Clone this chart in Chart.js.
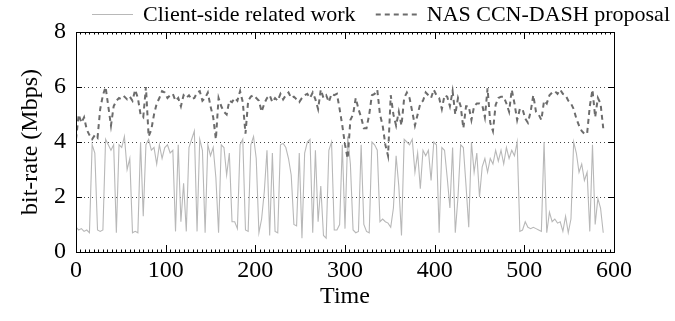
<!DOCTYPE html>
<html><head><meta charset="utf-8">
<script src="https://cdn.jsdelivr.net/npm/chart.js@4"></script>
<style>html,body{margin:0;padding:0;background:#fff}#wrap{width:675px;height:321px;position:relative}</style>
</head><body><div id="wrap"><canvas id="c"></canvas></div>
<script>
// ---- data (time step of 3 units) ----
const STEP = 3;
const CLIENT = [
0.9,0.8,0.85,0.75,0.8,0.7,3.9,3.6,0.8,0.75,
0.8,4.1,3.9,3.7,3.9,0.7,3.9,3.8,4.2,3.0,
3.4,0.7,0.75,0.7,4.0,1.3,3.9,4.1,3.7,3.8,
3.2,3.9,3.4,3.8,3.9,3.6,3.7,0.75,3.9,1.1,
2.5,0.75,3.8,4.1,4.4,0.75,4.1,3.7,0.7,3.9,
3.5,3.8,2.7,0.7,3.9,3.8,2.8,3.6,1.1,1.1,
0.85,3.9,4.1,0.8,0.75,3.9,4.2,3.4,0.7,1.2,
2.2,3.7,0.6,3.6,0.75,0.7,3.9,3.95,3.8,3.4,
2.8,1.0,0.95,3.6,0.5,3.6,4.0,4.1,0.7,3.7,
1.1,2.4,0.6,0.5,3.7,4.0,0.8,0.8,1.0,3.9,
0.85,4.2,3.2,0.8,0.7,0.75,3.9,1.0,0.75,0.7,
4.0,3.9,3.7,1.1,1.2,1.1,1.05,0.9,1.6,3.5,
2.4,0.6,4.1,4.0,3.9,4.1,2.9,3.6,2.3,3.7,
3.5,3.7,2.6,4.0,3.9,0.7,3.8,3.7,2.7,1.6,
3.8,0.7,2.0,3.9,3.8,2.4,0.9,4.0,2.9,3.6,
2.0,3.1,3.4,2.9,3.4,3.2,3.7,3.3,3.7,3.2,
3.8,3.4,3.7,3.5,4.0,0.75,0.8,1.1,0.9,0.85,
0.9,0.85,0.8,0.75,4.0,0.7,1.45,1.1,1.2,1.05,
1.1,0.75,1.3,0.7,1.2,4.0,3.6,2.9,3.2,2.6,
2.9,0.75,3.9,1.0,1.95,1.6,0.7
];
const NAS = [
4.1,5.0,4.7,4.9,4.45,4.25,4.1,4.25,4.15,5.2,
5.7,6.0,5.3,4.6,5.3,5.5,5.6,5.55,5.65,5.55,
5.65,5.5,5.9,5.6,5.0,4.9,6.0,4.2,4.45,5.0,
5.4,5.6,5.85,5.8,5.6,5.7,5.75,5.5,5.6,5.3,
5.7,5.6,5.7,5.55,5.6,5.8,5.85,5.5,5.6,5.8,
5.3,4.9,4.1,5.6,5.3,5.1,5.0,5.5,5.45,5.6,
5.5,5.85,5.45,4.3,5.5,5.65,5.7,5.6,5.5,5.1,
5.4,5.6,5.7,5.45,5.6,5.5,5.75,5.55,5.7,5.8,
5.6,5.65,5.55,5.45,5.6,5.7,5.75,5.6,5.8,5.55,
5.2,5.9,5.6,5.7,5.45,5.75,5.7,5.75,5.2,4.6,
3.9,3.4,4.8,5.0,5.6,5.2,4.9,4.5,4.5,5.0,
5.7,5.75,5.9,5.0,4.6,3.9,3.5,5.7,5.0,4.6,
5.1,4.6,5.6,5.8,5.6,5.1,4.6,5.0,5.4,5.5,
5.8,5.7,5.6,5.9,5.7,5.6,5.2,5.7,5.65,5.3,
5.85,5.0,5.6,5.3,4.5,5.3,5.3,4.8,5.3,5.4,
5.4,5.35,4.9,5.95,4.7,4.4,5.35,5.6,5.65,5.65,
5.4,5.1,5.9,5.4,4.8,5.2,5.2,4.85,4.7,5.1,
5.7,5.1,5.0,4.8,5.5,5.4,5.7,5.8,5.85,5.75,
5.9,5.75,5.7,5.5,5.4,5.2,4.85,4.6,4.4,4.3,
4.3,5.3,5.9,4.9,5.6,5.4,4.5
];
const TIME = CLIENT.map((_, i) => i * STEP);
const X_TICKS = [0, 100, 200, 300, 400, 500, 600];
const Y_TICKS = [0, 2, 4, 6, 8];
const Y_GRID = [2, 4, 6];
const SERIES_LABELS = ['Client-side related work', 'NAS CCN-DASH proposal'];

// ---- style/layout ----
const SERIF = '"Liberation Serif", "DejaVu Serif", serif';
const X_MINOR = 5;
const LEGEND_FONT = '22px ' + SERIF;
const LEGEND_FIRST_TEXT_X = 143;
const LEGEND_RIGHT = 670;
const LEGEND_Y = 14;
const LEGEND_SAMPLE = 41;
const LEGEND_TEXT_GAP = 10;

const toPts = (vals) => vals.map((v, i) => ({x: TIME[i], y: v}));

const framePlugin = {
  id: 'frame',
  afterDraw(chart) {
    const {ctx, chartArea: a, scales} = chart;
    ctx.save();
    ctx.strokeStyle = '#000';
    ctx.lineWidth = 1;
    ctx.setLineDash([]);
    ctx.strokeRect(a.left + 0.5, a.top + 0.5, a.right - a.left, a.bottom - a.top);
    ctx.beginPath();
    for (let v = 0; v <= 600; v += X_MINOR) {
      const px = Math.round(scales.x.getPixelForValue(v)) + 0.5;
      const len = (v % 100 === 0) ? 7 : 2.5;
      ctx.moveTo(px, a.bottom); ctx.lineTo(px, a.bottom - len);
      ctx.moveTo(px, a.top); ctx.lineTo(px, a.top + len);
    }
    Y_TICKS.forEach(v => {
      const py = Math.round(scales.y.getPixelForValue(v)) + 0.5;
      ctx.moveTo(a.left, py); ctx.lineTo(a.left + 6, py);
      ctx.moveTo(a.right, py); ctx.lineTo(a.right - 6, py);
    });
    ctx.stroke();
    ctx.restore();
  }
};

const legendPlugin = {
  id: 'topLegend',
  afterDraw(chart) {
    const ctx = chart.ctx;
    ctx.save();
    ctx.font = LEGEND_FONT;
    ctx.textBaseline = 'middle';
    ctx.fillStyle = '#000';
    const ds = chart.data.datasets;
    const w2 = ctx.measureText(ds[1].label).width;
    const textX = [LEGEND_FIRST_TEXT_X, LEGEND_RIGHT - w2];
    ds.forEach((d, i) => {
      const tx = textX[i];
      const x0 = tx - LEGEND_TEXT_GAP - LEGEND_SAMPLE;
      ctx.beginPath();
      ctx.strokeStyle = d.borderColor;
      ctx.lineWidth = d.borderWidth;
      ctx.setLineDash(d.borderDash || []);
      ctx.moveTo(x0, LEGEND_Y + 0.5);
      ctx.lineTo(x0 + LEGEND_SAMPLE, LEGEND_Y + 0.5);
      ctx.stroke();
      ctx.setLineDash([]);
      ctx.fillText(d.label, tx, LEGEND_Y + 1);
    });
    ctx.restore();
  }
};

new Chart(document.getElementById('c'), {
  type: 'line',
  data: {
    datasets: [
      {label: SERIES_LABELS[0], data: toPts(CLIENT), borderColor: '#b8b8b8', borderWidth: 1.1,
       pointRadius: 0, tension: 0, fill: false, order: 2},
      {label: SERIES_LABELS[1], data: toPts(NAS), borderColor: '#6c6c6c', borderWidth: 2,
       borderDash: [5, 4], pointRadius: 0, tension: 0, fill: false, order: 1}
    ]
  },
  options: {
    responsive: true,
    maintainAspectRatio: false,
    animation: false,
    devicePixelRatio: 1,
    layout: {padding: {top: 32, right: 61, bottom: 0, left: 0}},
    plugins: {legend: {display: false}, tooltip: {enabled: false}},
    scales: {
      x: {
        type: 'linear', min: 0, max: 600,
        afterBuildTicks: s => { s.ticks = X_TICKS.map(v => ({value: v})); },
        grid: {display: false, drawTicks: false},
        border: {display: false},
        ticks: {color: '#000', font: {family: SERIF, size: 24}, padding: 4, maxRotation: 0},
        title: {display: true, text: 'Time', color: '#000', font: {family: SERIF, size: 24},
                padding: {top: 0, bottom: 10}},
        afterFit: s => { s.height = 69; }
      },
      y: {
        min: 0, max: 8,
        afterBuildTicks: s => { s.ticks = Y_TICKS.map(v => ({value: v})); },
        grid: {
          drawTicks: false,
          lineWidth: 1,
          color: c => (c.tick && Y_GRID.includes(c.tick.value)) ? '#444' : 'rgba(0,0,0,0)'
        },
        border: {display: false, dash: [1, 3]},
        ticks: {color: '#000', font: {family: SERIF, size: 24}, padding: 10},
        title: {display: true, text: 'bit-rate (Mbps)', color: '#000', font: {family: SERIF, size: 24},
                padding: {top: 16, bottom: 0}},
        afterFit: s => { s.width = 76; }
      }
    }
  },
  plugins: [framePlugin, legendPlugin]
});
</script>
</body></html>
